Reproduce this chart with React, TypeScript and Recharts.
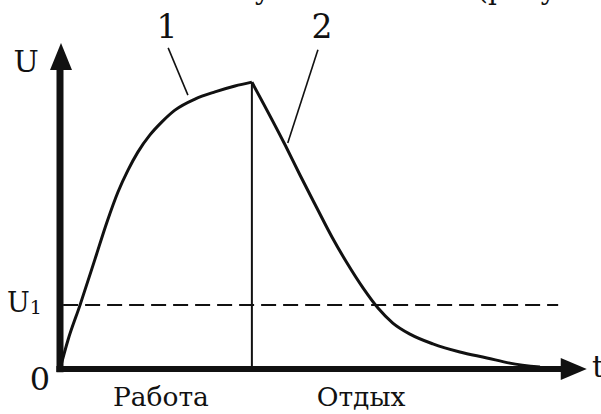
import React from "react";
import { LineChart, Line, XAxis, YAxis, ReferenceLine, ReferenceDot } from "recharts";

// Curve 1: work (t, U)
const workT = [0, 1.54, 3.85, 6.73, 9.04, 11.15, 13.08, 15.0, 17.3, 19.6, 22.1, 25.96, 29.8, 33.65, 36.9];
const workU = [0, 8.9, 19.6, 33.7, 45.1, 54.3, 61.0, 66.6, 71.8, 75.8, 79.4, 82.8, 85.0, 86.8, 88.0];
// Curve 2: rest (t, U)
const restT = [36.9, 43.3, 46.15, 49.4, 52.3, 55.2, 58.3, 61.15, 64.0, 67.3, 71.7, 76.9, 82.1, 86.5, 92.3];
const restU = [88.0, 68.7, 59.5, 49.4, 40.5, 32.5, 24.8, 18.7, 14.1, 10.7, 7.7, 5.2, 3.4, 1.8, 0.6];

const peakT = 36.9;
const peakU = 88.0;
const u1Level = 19.6;
const dashFrom = 0.6;
const dashTo = 95.8;

// axis ends
const yAxisTop = 100; // arrow tip
const yAxisBase = 91.7; // arrow base
const xAxisTip = 101.3;
const xAxisBase = 97.1;

// pointer lines for labels 1 and 2
const pointer1 = [{ t: 20.8, u: 98.5 }, { t: 24.6, u: 84.0 }];
const pointer2 = [{ t: 49.6, u: 97.9 }, { t: 43.8, u: 69.3 }];

const labelTexts = ["1", "2", "U", "0", "Работа", "Отдых", "t", "у", "(рисунок"];
const labelT = [20.6, 50.4, -6.5, -3.85, 19.4, 57.9, 102.3, 39.0, 80.2];
const labelU = [101.5, 101.5, 91.1, -6.44, -11.3, -11.3, -2.5, 113.4, 113.4];
const labelSize = [33, 33, 30, 32, 26.5, 26.5, 30, 28, 28];
const labelAnchor = ["middle", "middle", "middle", "middle", "middle", "middle", "start", "middle", "start"];

// U1 label
const u1LabelT = -10.2;
const u1LabelU = 17.5;

const workData = workT.map((t, i) => ({ t, u: workU[i] }));
const restData = restT.map((t, i) => ({ t, u: restU[i] }));

const FONT = "DejaVu Serif";
const INK = "#111";

export default function App() {
  return (
    <div style={{ position: "absolute", left: 0, top: 0, width: 601, height: 414, background: "#fff" }}>
      <LineChart width={601} height={414} margin={{ top: 43, right: 21, bottom: 45, left: 60 }}>
        <XAxis type="number" dataKey="t" domain={[0, 100]} hide allowDataOverflow />
        <YAxis type="number" dataKey="u" domain={[0, 100]} hide allowDataOverflow />

        {/* dashed U1 level */}
        <ReferenceLine
          segment={[{ x: dashFrom, y: u1Level }, { x: dashTo, y: u1Level }]}
          stroke={INK}
          strokeWidth={2}
          strokeDasharray="15 7"
          ifOverflow="visible"
        />
        {/* vertical divider at peak */}
        <ReferenceLine
          segment={[{ x: peakT, y: 0 }, { x: peakT, y: peakU }]}
          stroke={INK}
          strokeWidth={2}
          ifOverflow="visible"
        />
        {/* pointer lines */}
        <ReferenceLine
          segment={[{ x: pointer1[0].t, y: pointer1[0].u }, { x: pointer1[1].t, y: pointer1[1].u }]}
          stroke={INK}
          strokeWidth={1.6}
          ifOverflow="visible"
        />
        <ReferenceLine
          segment={[{ x: pointer2[0].t, y: pointer2[0].u }, { x: pointer2[1].t, y: pointer2[1].u }]}
          stroke={INK}
          strokeWidth={1.6}
          ifOverflow="visible"
        />

        <Line
          data={workData}
          dataKey="u"
          type="monotone"
          stroke={INK}
          strokeWidth={3}
          dot={false}
          isAnimationActive={false}
        />
        <Line
          data={restData}
          dataKey="u"
          type="monotone"
          stroke={INK}
          strokeWidth={3}
          dot={false}
          isAnimationActive={false}
        />

        {/* axes */}
        <ReferenceLine
          segment={[{ x: 0, y: -1 }, { x: 0, y: yAxisBase }]}
          stroke={INK}
          strokeWidth={7}
          ifOverflow="visible"
        />
        <ReferenceLine
          segment={[{ x: -0.7, y: 0 }, { x: xAxisBase, y: 0 }]}
          stroke={INK}
          strokeWidth={6}
          ifOverflow="visible"
        />
        <ReferenceDot
          x={0}
          y={yAxisTop}
          ifOverflow="visible"
          shape={(p: any) => (
            <polygon
              points={`${p.cx + 1},${p.cy} ${p.cx - 10},${p.cy + 27} ${p.cx + 12},${p.cy + 27}`}
              fill={INK}
            />
          )}
        />
        <ReferenceDot
          x={xAxisTip}
          y={0}
          ifOverflow="visible"
          shape={(p: any) => (
            <polygon
              points={`${p.cx},${p.cy} ${p.cx - 26},${p.cy - 11} ${p.cx - 26},${p.cy + 11}`}
              fill={INK}
            />
          )}
        />

        {labelTexts.map((txt, i) => (
          <ReferenceDot
            key={"l" + i}
            x={labelT[i]}
            y={labelU[i]}
            ifOverflow="visible"
            shape={(p: any) => (
              <text
                x={p.cx}
                y={p.cy}
                textAnchor={labelAnchor[i]}
                fontFamily={FONT}
                fontSize={labelSize[i]}
                fill={INK}
              >
                {txt}
              </text>
            )}
          />
        ))}
        <ReferenceDot
          x={u1LabelT}
          y={u1LabelU}
          ifOverflow="visible"
          shape={(p: any) => (
            <text x={p.cx} y={p.cy} fontFamily={FONT} fontSize={27} fill={INK}>
              <tspan>U</tspan>
              <tspan fontSize={19} dy={2}>1</tspan>
            </text>
          )}
        />
      </LineChart>
    </div>
  );
}
